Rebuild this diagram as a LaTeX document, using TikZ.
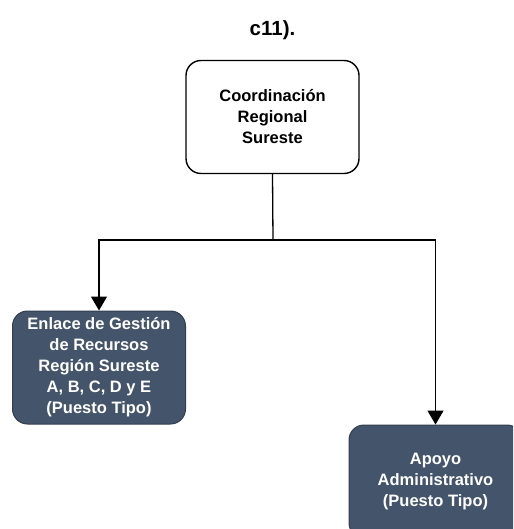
\documentclass[tikz,border=0pt]{standalone}
\usepackage{fontspec}
\setmainfont{Liberation Sans}
\usetikzlibrary{arrows.meta}
\definecolor{cajaazul}{HTML}{44546A}
\definecolor{bordeazul}{HTML}{323E4F}
\tikzset{
  puesto/.style={rounded corners=15pt, minimum width=173pt, minimum height=113pt,
    align=center, font=\fontsize{16.5}{21}\selectfont\bfseries},
  titular/.style={puesto, draw=black, line width=1.4pt, fill=white},
  subordinado/.style={puesto, draw=bordeazul, line width=1pt, fill=cajaazul, text=white},
  linea/.style={line width=1.3pt},
  flecha/.style={linea, -{Triangle[width=16pt,length=14pt]}}
}
\begin{document}
\begin{tikzpicture}[x=1pt,y=-1pt]
  \useasboundingbox (0,0) rectangle (513,529);
  \clip (0,0) rectangle (513,529);
  \node[font=\fontsize{20.5}{22}\selectfont\bfseries] (titulo) at (272.5,30) {c11).};
  \node[titular] (coord) at (272.5,117) {Coordinación\\Regional\\Sureste};
  \node[subordinado] (enlace) at (99,367.5) {Enlace de Gestión\\de Recursos\\Región Sureste\\A, B, C, D y E\\(Puesto Tipo)};
  \node[subordinado] (apoyo) at (435.5,481.5) {Apoyo\\Administrativo\\(Puesto Tipo)};
  \coordinate (split) at (273,240);
  \draw[linea] (coord.south) -- (split);
  \draw[flecha] (split) -| (enlace.north);
  \draw[flecha] (split) -| (apoyo.north);
\end{tikzpicture}
\end{document}
